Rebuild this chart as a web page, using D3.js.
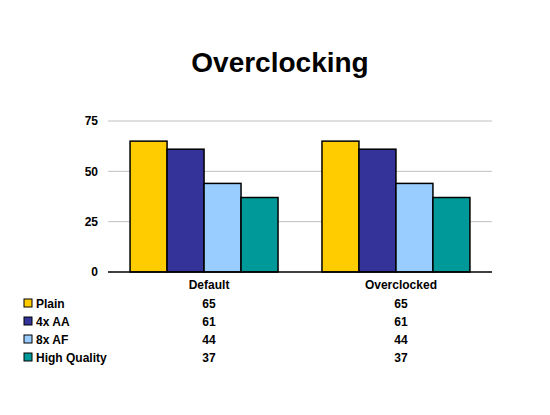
<!DOCTYPE html>
<html><head><meta charset="utf-8">
<script src="https://cdn.jsdelivr.net/npm/d3@7"></script>
<style>body{margin:0;background:#fff}svg{font-family:"Liberation Sans",Arial,sans-serif}</style>
</head><body><svg id="c" width="550" height="415"></svg>
<script>
const categories = ["Default", "Overclocked"];
const seriesNames = ["Plain", "4x AA", "8x AF", "High Quality"];
const plain = [65, 65];
const aa4x = [61, 61];
const af8x = [44, 44];
const highQuality = [37, 37];
const yTicks = [0, 25, 50, 75];
const colors = ["#FFCC00", "#333399", "#99CCFF", "#009999"];
const series = [plain, aa4x, af8x, highQuality];

const svg = d3.select("#c");
svg.append("text").attr("x", 280).attr("y", 72).attr("text-anchor", "middle")
  .attr("font-size", 28).attr("font-weight", "bold").text("Overclocking");

const L = 108, R = 492, T = 121, B = 272;
const y = d3.scaleLinear().domain([0, 75]).range([B, T]);
const x0 = d3.scaleBand().domain(categories).range([L, R]).paddingInner(0.229).paddingOuter(0.115);
const x1 = d3.scaleBand().domain(seriesNames).range([0, x0.bandwidth()]);

yTicks.filter(t => t > 0).forEach(t => {
  svg.append("line").attr("x1", L).attr("x2", R).attr("y1", y(t)).attr("y2", y(t)).attr("stroke", "#c0c0c0");
});
const ax = svg.append("g").attr("transform", `translate(${L},0)`)
  .call(d3.axisLeft(y).tickValues(yTicks).tickSize(0).tickPadding(10));
ax.select(".domain").remove();
ax.selectAll("text").attr("font-size", 12).attr("font-weight", "bold").attr("font-family", "Liberation Sans, Arial");

categories.forEach((c, ci) => {
  series.forEach((s, si) => {
    svg.append("rect").attr("x", x0(c) + x1(seriesNames[si])).attr("y", y(s[ci]))
      .attr("width", x1.bandwidth()).attr("height", B - y(s[ci]))
      .attr("fill", colors[si]).attr("stroke", "#000").attr("stroke-width", 1.5);
  });
});
svg.append("line").attr("x1", L).attr("x2", R).attr("y1", B).attr("y2", B).attr("stroke", "#000").attr("stroke-width", 1.5);

const cx = c => x0(c) + x0.bandwidth() / 2 + 5;
categories.forEach(c => {
  svg.append("text").attr("x", cx(c)).attr("y", 289).attr("text-anchor", "middle")
    .attr("font-size", 12).attr("font-weight", "bold").text(c);
});
seriesNames.forEach((n, si) => {
  const ry = 303 + si * 18;
  svg.append("rect").attr("x", 24).attr("y", ry - 4).attr("width", 8).attr("height", 8)
    .attr("fill", colors[si]).attr("stroke", "#000");
  svg.append("text").attr("x", 36).attr("y", ry + 4.5).attr("font-size", 12).attr("font-weight", "bold").text(n);
  categories.forEach((c, ci) => {
    svg.append("text").attr("x", cx(c)).attr("y", ry + 4.5).attr("text-anchor", "middle")
      .attr("font-size", 12).attr("font-weight", "bold").text(series[si][ci]);
  });
});
</script></body></html>
